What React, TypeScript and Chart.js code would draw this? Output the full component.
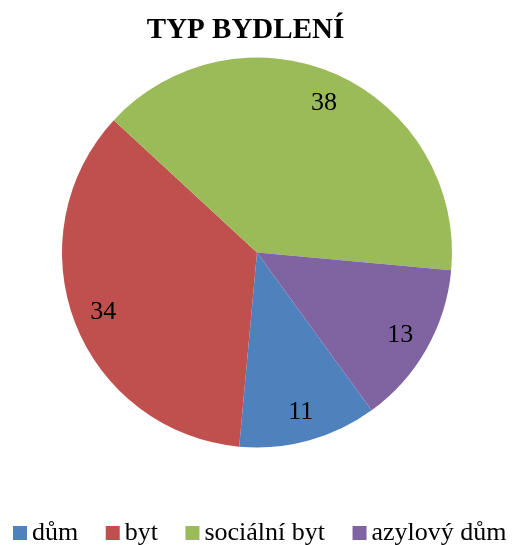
import React, { useEffect, useRef } from 'react';
import { Chart, registerables } from 'chart.js';

Chart.register(...registerables);

const chartTitle = 'TYP BYDLENÍ';
const categories = ['dům', 'byt', 'sociální byt', 'azylový dům'];
const values = [11, 34, 38, 13];
const sliceColors = ['#4F81BD', '#C0504D', '#9BBB59', '#8064A2'];

const SERIF = '"Liberation Serif", "Times New Roman", Times, serif';

const titlePlugin = {
  id: 'excelTitle',
  afterDraw(chart: any) {
    const ctx = chart.ctx;
    ctx.save();
    ctx.font = `bold 29px ${SERIF}`;
    ctx.fillStyle = '#000';
    ctx.textAlign = 'center';
    ctx.textBaseline = 'alphabetic';
    ctx.fillText(chartTitle, 245.5, 38);
    ctx.restore();
  },
};

const sliceLabelPlugin = {
  id: 'sliceLabels',
  afterDatasetsDraw(chart: any) {
    const ctx = chart.ctx;
    const meta = chart.getDatasetMeta(0);
    const data = chart.data.datasets[0].data as number[];
    ctx.save();
    ctx.font = `26px ${SERIF}`;
    ctx.fillStyle = '#000';
    ctx.textAlign = 'center';
    ctx.textBaseline = 'middle';
    meta.data.forEach((arc: any, i: number) => {
      const { x, y, startAngle, endAngle, outerRadius } = arc.getProps(
        ['x', 'y', 'startAngle', 'endAngle', 'outerRadius'],
        true
      );
      const mid = (startAngle + endAngle) / 2;
      const r = outerRadius * 0.845;
      ctx.fillText(String(data[i]), x + Math.cos(mid) * r, y + Math.sin(mid) * r + 1);
    });
    ctx.restore();
  },
};

const legendPlugin = {
  id: 'excelLegend',
  afterDraw(chart: any) {
    const ctx = chart.ctx;
    const labels = chart.data.labels as string[];
    const colors = chart.data.datasets[0].backgroundColor as string[];
    const box = 14;
    const boxGap = 5;
    const itemGap = 27.5;
    const baseline = chart.height - 5;
    ctx.save();
    ctx.font = `26px ${SERIF}`;
    const widths = labels.map((l) => ctx.measureText(l).width);
    let x = 13;
    ctx.textAlign = 'left';
    ctx.textBaseline = 'alphabetic';
    labels.forEach((l, i) => {
      ctx.fillStyle = colors[i];
      ctx.fillRect(x, baseline - box, box, box);
      ctx.fillStyle = '#000';
      ctx.fillText(l, x + box + boxGap, baseline);
      x += box + boxGap + widths[i] + itemGap;
    });
    ctx.restore();
  },
};

export default function App() {
  const ref = useRef<HTMLCanvasElement>(null);

  useEffect(() => {
    document.body.style.margin = '0';
    const canvas = ref.current;
    if (!canvas) return;
    const chart = new Chart(canvas, {
      type: 'pie',
      data: {
        labels: categories,
        datasets: [
          {
            data: values,
            backgroundColor: sliceColors,
            borderWidth: 0,
          },
        ],
      },
      options: {
        responsive: false,
        animation: false,
        rotation: 144,
        radius: 195,
        layout: { padding: { top: 45, bottom: 85, left: 0, right: 0 } },
        plugins: {
          legend: { display: false },
          title: { display: false },
          tooltip: { enabled: false },
        },
      } as any,
      plugins: [sliceLabelPlugin, titlePlugin, legendPlugin],
    });
    return () => chart.destroy();
  }, []);

  return (
    <div style={{ width: 514, height: 545, background: '#fff' }}>
      <canvas ref={ref} width={514} height={545} style={{ display: 'block' }} />
    </div>
  );
}
